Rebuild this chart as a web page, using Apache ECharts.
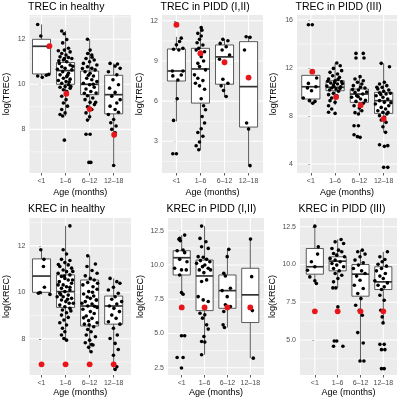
<!DOCTYPE html>
<html><head><meta charset="utf-8">
<script src="https://cdn.jsdelivr.net/npm/echarts@6/dist/echarts.min.js"></script>
<style>html,body{margin:0;padding:0;background:#fff}#c{width:400px;height:400px}</style>
</head><body><div id="c"></div>
<script>
const categories = ['<1', '1–6', '6–12', '12–18'];

// boxes: [lower whisker, Q1, median, Q3, upper whisker]
const trecHealthyBox = [[10.3,10.46,11.69,12.0,12.66],[8.59,10.0,10.61,10.97,12.37],[8.41,9.54,10.0,10.59,12.0],[6.39,8.69,9.54,10.4,10.93]];
const trecP12Box = [[4.48,7.5,8.25,9.89,10.8],[2.37,5.85,8.4,9.94,11.5],[6.3,7.26,9.3,10.19,10.6],[1.18,4.06,7.08,10.44,10.86]];
const trecP3Box = [[9.06,9.42,10.44,11.39,11.39],[8.9,10.11,10.39,10.94,12.42],[8.17,9.14,9.83,10.25,11.28],[6.64,8.22,9.28,9.97,12.39]];
const krecHealthyBox = [[9.91,10.0,10.7,11.44,11.83],[7.94,9.35,10.03,10.75,12.86],[7.44,8.55,9.41,10.53,11.57],[6.68,8.63,9.41,9.84,10.6]];
const krecP12Box = [[7.86,9.27,10.53,11.04,12.18],[3.45,6.67,9.2,10.36,12.84],[5.44,6.84,8.13,9.27,11.14],[3.2,5.8,7.82,9.76,11.89]];
const krecP3Box = [[8.74,9.36,9.85,11.06,12.54],[8.45,9.58,10.22,10.51,11.66],[3.61,7.9,9.36,10.0,10.95],[6.13,8.34,8.85,9.85,10.84]];

// jittered points: [offset from category, value], one list per category
const trecHealthyPts = [
 [[-0.16,12.66],[-0.03,12.15],[0.28,11.66],[0.3,10.44],[-0.16,10.37],[0.03,10.31],[0.2,10.4]],
 [[-0.16,12.37],[-0.06,12.25],[0.05,11.99],[-0.12,11.84],[0.12,11.6],[-0.05,11.52],[-0.3,11.49],[0.19,11.44],[-0.16,11.37],[0.02,11.3],[-0.23,11.22],[0.12,11.19],[0.26,11.15],[-0.09,11.08],[0.05,11.0],[-0.26,10.93],[0.19,10.86],[-0.16,10.78],[-0.02,10.71],[-0.34,10.67],[0.26,10.64],[-0.12,10.56],[0.12,10.49],[-0.23,10.42],[0.05,10.34],[-0.09,10.27],[0.19,10.23],[-0.3,10.17],[0.02,10.12],[-0.16,10.05],[0.12,9.98],[-0.02,9.9],[-0.23,9.87],[0.19,9.83],[-0.09,9.76],[0.05,9.68],[-0.16,9.47],[0.02,9.32],[-0.09,9.17],[0.08,9.03],[-0.16,8.88],[-0.02,8.73],[-0.23,8.66],[-0.12,8.59],[-0.05,7.52],[0.3,10.8],[-0.28,11.05],[0.08,10.4],[-0.05,11.15],[0.15,10.1],[0.22,9.9]],
 [[-0.09,12.0],[0.02,11.52],[-0.08,11.37],[0.09,11.3],[-0.15,11.15],[0.19,11.08],[0,11.0],[-0.26,10.93],[0.3,10.86],[-0.09,10.78],[0.09,10.71],[0.23,10.64],[-0.19,10.56],[0.02,10.49],[0.16,10.37],[-0.12,10.27],[0.09,10.2],[0.3,10.12],[-0.26,10.05],[0,9.98],[0.19,9.87],[-0.15,9.79],[0.05,9.68],[0.27,9.61],[-0.09,9.49],[0.13,9.39],[-0.19,9.32],[0.02,9.2],[0.2,9.1],[-0.09,9.0],[0.09,8.88],[-0.15,8.73],[0,8.56],[-0.09,8.41],[-0.15,7.78],[0.02,7.78],[-0.03,6.53],[0.05,6.53],[-0.05,10.4],[0.15,10.0],[-0.22,9.6],[0.25,9.2],[-0.3,10.7],[0.1,11.2]],
 [[-0.15,10.93],[0.16,10.9],[0.06,10.81],[0.27,10.71],[-0.22,10.56],[0.13,10.42],[-0.03,10.2],[0.2,9.98],[-0.17,9.83],[0.06,9.64],[-0.08,9.47],[0.27,9.32],[0.13,9.17],[-0.15,9.03],[0.06,8.88],[0.2,8.76],[-0.22,8.66],[0,8.44],[-0.12,8.29],[0.1,8.15],[-0.08,8.0],[0.06,7.85],[0,6.39]]
];
const trecP12Pts = [
 [[0.2,10.7],[0.13,10.45],[0,10.2],[-0.12,9.87],[0.1,9.82],[0.27,9.94],[-0.17,8.25],[0.27,8.25],[-0.15,7.88],[0.2,7.95],[0.06,7.58],[0.03,6.17],[-0.12,4.56],[-0.15,2.07],[0,2.07]],
 [[0.03,11.5],[0.06,11.3],[-0.11,11.06],[0.03,10.86],[-0.04,10.61],[-0.14,10.36],[0.1,10.19],[-0.07,9.94],[-0.18,9.82],[0.17,9.69],[-0.04,9.52],[0.03,9.32],[0.13,9.0],[-0.11,8.82],[-0.04,8.58],[0.21,8.33],[-0.25,7.96],[-0.11,7.71],[0.1,7.53],[-0.21,7.33],[-0.04,7.14],[0.17,6.89],[0.03,6.17],[0.13,5.65],[0.21,5.35],[0.07,4.85],[0.17,4.36],[0.03,3.94],[-0.11,3.66],[0.1,3.37],[-0.04,2.94],[-0.18,2.67],[-0.07,2.37]],
 [[-0.07,10.61],[0.14,10.51],[-0.18,10.31],[0.07,10.06],[-0.1,9.82],[0.21,9.44],[-0.21,9.12],[0,8.82],[-0.07,7.63],[0.14,7.33],[-0.14,7.14],[-0.04,6.79],[0.07,6.34]],
 [[-0.1,10.81],[0.06,10.76],[-0.17,9.82],[-0.08,4.36],[0,3.91],[0.06,1.18]]
];
const trecP3Pts = [
 [[-0.1,15.61],[0.06,15.61],[0.24,11.17],[-0.1,10.72],[0.21,10.44],[-0.14,10.33],[0.03,10.11],[-0.31,9.5],[-0.06,9.28],[0.17,9.22],[0.08,9.06]],
 [[0.07,12.42],[0.21,12.19],[-0.07,11.97],[0.27,11.78],[-0.21,11.64],[0.1,11.5],[-0.1,11.36],[0.18,11.22],[-0.27,11.08],[0,10.94],[0.27,10.86],[-0.18,10.75],[0.1,10.67],[-0.07,10.58],[-0.34,10.5],[0.23,10.44],[-0.14,10.33],[0.04,10.25],[-0.23,10.17],[0.14,10.06],[-0.07,9.89],[-0.27,9.78],[0.07,9.69],[-0.14,9.5],[-0.21,9.28],[0,9.14],[-0.27,8.86],[-0.14,8.58],[-0.27,8.31],[0,8.22],[0.3,10.7],[-0.3,10.9],[0.2,10.3],[-0.05,10.45],[0.12,11.05],[-0.02,10.8]],
 [[-0.14,13.22],[0.16,13.22],[-0.14,12.83],[0.19,12.83],[0.03,11.28],[-0.18,11.08],[0.16,10.94],[-0.08,10.81],[0.1,10.67],[-0.25,10.53],[0.23,10.33],[-0.04,10.17],[-0.18,9.97],[0.14,9.83],[-0.11,9.69],[-0.32,9.56],[0.05,9.42],[-0.14,9.22],[0.16,9.06],[-0.22,8.86],[0,8.67],[0.1,8.44],[-0.18,8.28],[-0.04,8.17],[-0.22,7.19],[-0.04,7.19],[-0.22,6.44],[-0.08,6.28],[0.03,6.22],[0.3,10.0],[-0.28,10.2],[0.25,9.3],[0.05,10.4],[-0.05,9.6]],
 [[-0.1,12.39],[0.24,12.11],[0.03,10.81],[-0.17,10.67],[0.13,10.53],[-0.06,10.39],[-0.24,10.25],[0.21,10.17],[0,10.06],[-0.17,9.94],[0.1,9.83],[-0.31,9.69],[-0.03,9.56],[0.17,9.42],[-0.17,9.28],[0.03,9.14],[-0.34,9.0],[0.21,8.86],[-0.1,8.72],[0.08,8.58],[-0.24,8.44],[-0.03,8.31],[0.13,8.17],[-0.17,8.03],[0.03,7.89],[-0.1,7.67],[0.1,7.47],[-0.03,7.11],[0.08,6.64],[-0.17,5.61],[0.17,5.53],[0.03,5.47],[0,3.72],[0.17,3.72],[0.28,9.9],[-0.28,10.4],[0.3,9.1],[-0.12,9.8],[0.18,8.3]]
];
const krecHealthyPts = [
 [[-0.03,11.83],[0.1,11.42],[0.08,11.11],[0.12,10.22],[-0.13,9.96],[0.35,9.91],[-0.06,9.99]],
 [[0.18,12.86],[-0.1,11.83],[0.04,11.65],[-0.17,11.42],[0.18,11.37],[-0.03,11.28],[0.11,11.18],[-0.24,11.11],[0.25,11.04],[-0.1,10.96],[0.04,10.89],[-0.31,10.82],[0.18,10.75],[-0.17,10.68],[-0.03,10.6],[0.11,10.53],[-0.26,10.46],[0.25,10.39],[-0.1,10.32],[0.04,10.24],[-0.17,10.17],[0.18,10.1],[-0.03,10.03],[-0.24,9.96],[0.11,9.88],[-0.1,9.81],[0.25,9.74],[-0.17,9.67],[0.01,9.6],[0.15,9.53],[-0.24,9.45],[-0.03,9.38],[0.18,9.31],[-0.13,9.24],[0.04,9.12],[-0.17,9.02],[0.11,8.92],[-0.07,8.81],[-0.24,8.69],[0.04,8.59],[-0.13,8.45],[-0.03,8.3],[-0.17,8.16],[-0.07,8.01],[0.04,7.94],[0.18,10.22],[-0.31,10.32],[0.29,10.53],[-0.35,9.81],[0.32,9.53],[0.3,10.9],[-0.3,11.2],[0.08,9.7],[-0.05,10.7],[0.22,9.2],[-0.2,9.9]],
 [[-0.08,11.57],[0.24,11.22],[-0.11,11.11],[0.1,10.94],[0.31,10.82],[-0.18,10.71],[0.03,10.6],[0.19,10.53],[-0.08,10.42],[-0.28,10.32],[0.14,10.24],[0.31,10.13],[-0.04,10.03],[-0.25,9.93],[0.17,9.84],[0.03,9.74],[0.28,9.67],[-0.18,9.6],[0.1,9.5],[-0.08,9.41],[0.31,9.35],[-0.28,9.27],[0.03,9.17],[0.19,9.09],[-0.14,8.98],[0.1,8.88],[-0.04,8.78],[0.31,8.69],[-0.22,8.63],[0.17,8.52],[-0.08,8.4],[0.06,8.3],[-0.14,8.16],[0.24,8.09],[0,7.94],[-0.18,7.83],[0.14,7.73],[-0.04,7.63],[0.06,7.44],[0.28,9.67],[-0.32,9.53],[0.33,10.39],[-0.1,9.8],[0.12,10.0],[-0.25,8.9],[0.2,9.4],[-0.02,8.6],[0.08,7.75]],
 [[-0.15,10.6],[0.13,10.46],[0.26,10.39],[-0.01,10.22],[-0.22,10.1],[0.19,9.96],[0.06,9.81],[-0.08,9.7],[0.33,9.6],[0.13,9.5],[-0.18,9.41],[0.01,9.31],[0.24,9.17],[-0.08,9.02],[0.1,8.88],[-0.22,8.73],[0.26,8.63],[-0.01,8.45],[0.15,8.16],[-0.15,8.01],[0.06,7.8],[0.19,7.54],[-0.01,7.29],[0.13,6.79],[0.06,6.68]]
];
const krecP12Pts = [
 [[0.13,12.18],[-0.09,11.94],[-0.12,11.87],[-0.06,11.77],[0.06,11.09],[-0.2,11.04],[0.13,10.9],[-0.09,10.41],[0.23,10.24],[-0.31,9.76],[-0.01,9.64],[0.2,9.64],[-0.09,9.27],[-0.01,7.99],[0.06,7.86],[-0.01,4.83],[0.13,4.83],[-0.2,3.25],[0.06,3.25],[-0.01,2.48]],
 [[-0.13,12.84],[-0.2,11.94],[0.06,11.7],[-0.13,11.33],[0.16,11.21],[-0.28,10.61],[-0.06,10.56],[0.09,10.41],[-0.18,10.32],[0.23,10.24],[-0.35,10.12],[0.01,10.0],[-0.09,9.88],[0.16,9.76],[-0.23,9.64],[0.26,9.64],[-0.03,9.44],[0.09,8.91],[-0.13,8.79],[-0.28,7.69],[-0.06,7.45],[0.16,7.33],[-0.2,6.48],[0.01,6.36],[-0.09,6.12],[0.09,5.63],[0.16,5.32],[-0.03,4.78],[-0.13,4.42],[0.01,4.37],[-0.13,3.45]],
 [[0.06,11.14],[-0.01,10.61],[-0.16,9.39],[-0.09,9.2],[0.13,8.3],[-0.23,8.13],[-0.01,7.69],[-0.09,7.09],[0.13,6.97],[-0.16,6.6],[-0.19,5.63],[-0.13,5.44]],
 [[0.01,11.89],[0.06,9.15],[0.09,6.67],[0.13,3.2]]
];
const krecP3Pts = [
 [[0,12.54],[0.15,11.17],[0.12,10.69],[-0.15,10.18],[0,9.85],[-0.32,9.62],[-0.22,9.18],[0,8.92],[0.07,8.74]],
 [[0.15,11.66],[-0.11,11.5],[0.26,11.39],[-0.25,11.06],[0.04,10.95],[0.18,10.84],[-0.18,10.73],[-0.04,10.62],[0.3,10.51],[-0.33,10.4],[-0.11,10.29],[0.11,10.18],[-0.25,10.07],[-0.04,9.96],[0.26,9.85],[-0.18,9.73],[0.07,9.58],[-0.11,9.4],[0.18,9.29],[0.01,9.07],[-0.18,8.85],[-0.08,8.45],[-0.21,8.45],[0.01,7.19],[-0.15,4.93],[-0.04,4.93],[-0.18,4.58],[0.23,4.58]],
 [[0.08,10.95],[-0.12,10.84],[0.2,10.69],[-0.02,10.51],[-0.24,10.29],[0.12,10.11],[-0.09,9.96],[-0.31,9.73],[0.05,9.58],[0.2,9.4],[-0.17,9.23],[-0.02,8.96],[-0.27,8.63],[0.12,8.41],[-0.12,8.08],[0.02,7.74],[-0.21,7.3],[-0.05,6.97],[0.08,6.64],[-0.12,5.49],[0.12,4.8],[-0.02,3.61],[0.15,3.61]],
 [[0.18,10.84],[-0.15,10.51],[0.07,10.33],[-0.05,10.18],[-0.23,10.02],[0.14,9.89],[-0.08,9.73],[-0.3,9.58],[0.09,9.4],[-0.15,9.23],[0,9.07],[-0.37,8.92],[0.18,8.78],[-0.23,8.63],[0.04,8.52],[-0.08,8.34],[-0.15,7.96],[0.04,7.63],[-0.11,6.97],[-0.05,6.53],[-0.01,6.13],[-0.15,4.71],[0.04,4.71],[-0.08,4.36],[0.07,4.36],[-0.08,3.1],[0.04,3.1]]
];

// highlighted (red) values per category
const redTrec = [11.7, 9.58, 8.9, 7.76];
const redKrec = [6.9, 6.9, 6.9, 6.9];
const redOffsets = [[0.33,0.03,0,0.02],[0,0,0,0],[0.06,0.04,0.05,0],[0,0,0,0],[0,0,0,0],[0,0,0,0]];

// y-axis breaks
const yMajor = [[8,10,12],[3,6,9,12],[4,8,12,16],[8,10,12],[2.5,5,7.5,10,12.5],[5,7.5,10,12.5]];
const yMinor = [[7,9,11,13],[1.5,4.5,7.5,10.5],[6,10,14],[7,9,11,13],[3.75,6.25,8.75,11.25],[3.75,6.25,8.75,11.25]];
const titles = ['TREC in healthy','TREC in PIDD (I,II)','TREC in PIDD (III)','KREC in healthy','KREC in PIDD (I,II)','KREC in PIDD (III)'];
const yNames = ['log(TREC)','log(TREC)','log(TREC)','log(KREC)','log(KREC)','log(KREC)'];

const boxes = [trecHealthyBox, trecP12Box, trecP3Box, krecHealthyBox, krecP12Box, krecP3Box];
const pts = [trecHealthyPts, trecP12Pts, trecP3Pts, krecHealthyPts, krecP12Pts, krecP3Pts];
const reds = [redTrec, redTrec, redTrec, redKrec, redKrec, redKrec];

// layout
const layout = [
 {left:29.5, top:15, width:101.5, height:158, x:[-0.5,3.72], y:[6.06,13.08], gap:18, fix:false, xgap:15},
 {left:162, top:15, width:101, height:158, x:[-0.6,3.6], y:[0.63,12.43], gap:18, fix:false, xgap:15},
 {left:297, top:15, width:100, height:158, x:[-0.57,3.55], y:[3.25,16.42], gap:19, fix:false, xgap:15},
 {left:29.5, top:218, width:101.5, height:157, x:[-0.5,3.72], y:[6.44,13.2], gap:18, fix:false, xgap:13.5},
 {left:168, top:218, width:96, height:157, x:[-0.6,3.6], y:[1.97,13.43], gap:23, fix:true, xgap:13.5},
 {left:300, top:218, width:97, height:157, x:[-0.65,3.6], y:[2.68,13.08], gap:23, fix:true, xgap:13.5}
];

const FONT = 'Liberation Sans, Arial, Helvetica, sans-serif';
const grids = [], xAxes = [], yAxes = [], series = [], titleOpts = [];

function gridRender(params, api) {
  const cs = params.coordSys;
  const dir = api.value(0), v = api.value(1), major = api.value(2);
  let shape;
  if (dir === 0) {
    const y = api.coord([0, v])[1];
    shape = {x1: cs.x, y1: y, x2: cs.x + cs.width, y2: y};
  } else {
    const x = api.coord([v, 0])[0];
    shape = {x1: x, y1: cs.y, x2: x, y2: cs.y + cs.height};
  }
  return {type: 'line', shape, style: {stroke: '#ffffff', lineWidth: major ? 1.1 : 0.55}};
}
function boxRender(params, api) {
  const x = api.value(0);
  const lo = api.coord([x, api.value(1)]);
  const q1 = api.coord([x, api.value(2)]);
  const md = api.coord([x, api.value(3)]);
  const q3 = api.coord([x, api.value(4)]);
  const hi = api.coord([x, api.value(5)]);
  const w = api.size([0.75, 0], [x, api.value(3)])[0];
  const st = {stroke: '#333333', lineWidth: 0.8, fill: null};
  return {type: 'group', children: [
    {type: 'line', shape: {x1: hi[0], y1: hi[1], x2: q3[0], y2: q3[1]}, style: st},
    {type: 'line', shape: {x1: q1[0], y1: q1[1], x2: lo[0], y2: lo[1]}, style: st},
    {type: 'rect', shape: {x: q3[0] - w / 2, y: q3[1], width: w, height: q1[1] - q3[1]}, style: {fill: '#ffffff', stroke: '#333333', lineWidth: 0.8}},
    {type: 'line', shape: {x1: md[0] - w / 2, y1: md[1], x2: md[0] + w / 2, y2: md[1]}, style: {stroke: '#333333', lineWidth: 1.7}}
  ]};
}

layout.forEach((L, p) => {
  grids.push({left: L.left, top: L.top, width: L.width, height: L.height, show: true, backgroundColor: '#EBEBEB', borderWidth: 0, containLabel: false});
  const catIdx = categories.map((c, i) => i);
  xAxes.push({
    type: 'value', gridIndex: p, min: L.x[0], max: L.x[1],
    axisLine: {show: false}, splitLine: {show: false},
    axisTick: {show: true, customValues: catIdx, length: 2.5, lineStyle: {color: '#333333', width: 0.8}},
    axisLabel: {customValues: catIdx, formatter: v => categories[Math.round(v)], color: '#4D4D4D', fontSize: 7, fontFamily: FONT, margin: 4.5},
    name: 'Age (months)', nameLocation: 'middle', nameGap: L.xgap,
    nameTextStyle: {fontSize: 9, color: '#000', fontFamily: FONT}
  });
  yAxes.push({
    type: 'value', gridIndex: p, min: L.y[0], max: L.y[1],
    axisLine: {show: false}, splitLine: {show: false},
    axisTick: {show: true, customValues: yMajor[p], length: 2.5, lineStyle: {color: '#333333', width: 0.8}},
    axisLabel: {customValues: yMajor[p], formatter: v => L.fix ? v.toFixed(1) : String(v), color: '#4D4D4D', fontSize: 7, fontFamily: FONT, margin: 4},
    name: yNames[p], nameLocation: 'middle', nameGap: L.gap, nameRotate: 90,
    nameTextStyle: {fontSize: 9, color: '#000', fontFamily: FONT}
  });
  const gl = [];
  yMinor[p].forEach(v => gl.push([0, v, 0]));
  yMajor[p].forEach(v => gl.push([0, v, 1]));
  catIdx.forEach(i => gl.push([1, i, 1]));
  series.push({type: 'custom', xAxisIndex: p, yAxisIndex: p, z: 1, silent: true, renderItem: gridRender, data: gl, encode: {x: 1, y: 1}});
  series.push({type: 'custom', xAxisIndex: p, yAxisIndex: p, z: 2, silent: true, renderItem: boxRender,
    data: boxes[p].map((b, i) => [i].concat(b)), encode: {x: 0, y: [1, 2, 3, 4, 5]}});
  const sd = [];
  pts[p].forEach((arr, ci) => arr.forEach(([o, v]) => sd.push([ci + o, v])));
  series.push({type: 'scatter', xAxisIndex: p, yAxisIndex: p, z: 3, silent: true, symbolSize: 3.6, itemStyle: {color: '#000000', opacity: 1}, data: sd});
  series.push({type: 'scatter', xAxisIndex: p, yAxisIndex: p, z: 4, silent: true, symbolSize: 5.8, itemStyle: {color: '#E8161B', opacity: 1},
    data: reds[p].map((v, i) => [i + redOffsets[p][i], v])});
  titleOpts.push({text: titles[p], left: L.left - 1.5, top: p < 3 ? 1.5 : 204, padding: 0,
    textStyle: {fontSize: 10.5, fontWeight: 'normal', color: '#000', fontFamily: FONT}});
});

const chart = echarts.init(document.getElementById('c'), null, {renderer: 'canvas'});
chart.setOption({animation: false, backgroundColor: '#ffffff', title: titleOpts, grid: grids, xAxis: xAxes, yAxis: yAxes, series: series});
</script></body></html>
